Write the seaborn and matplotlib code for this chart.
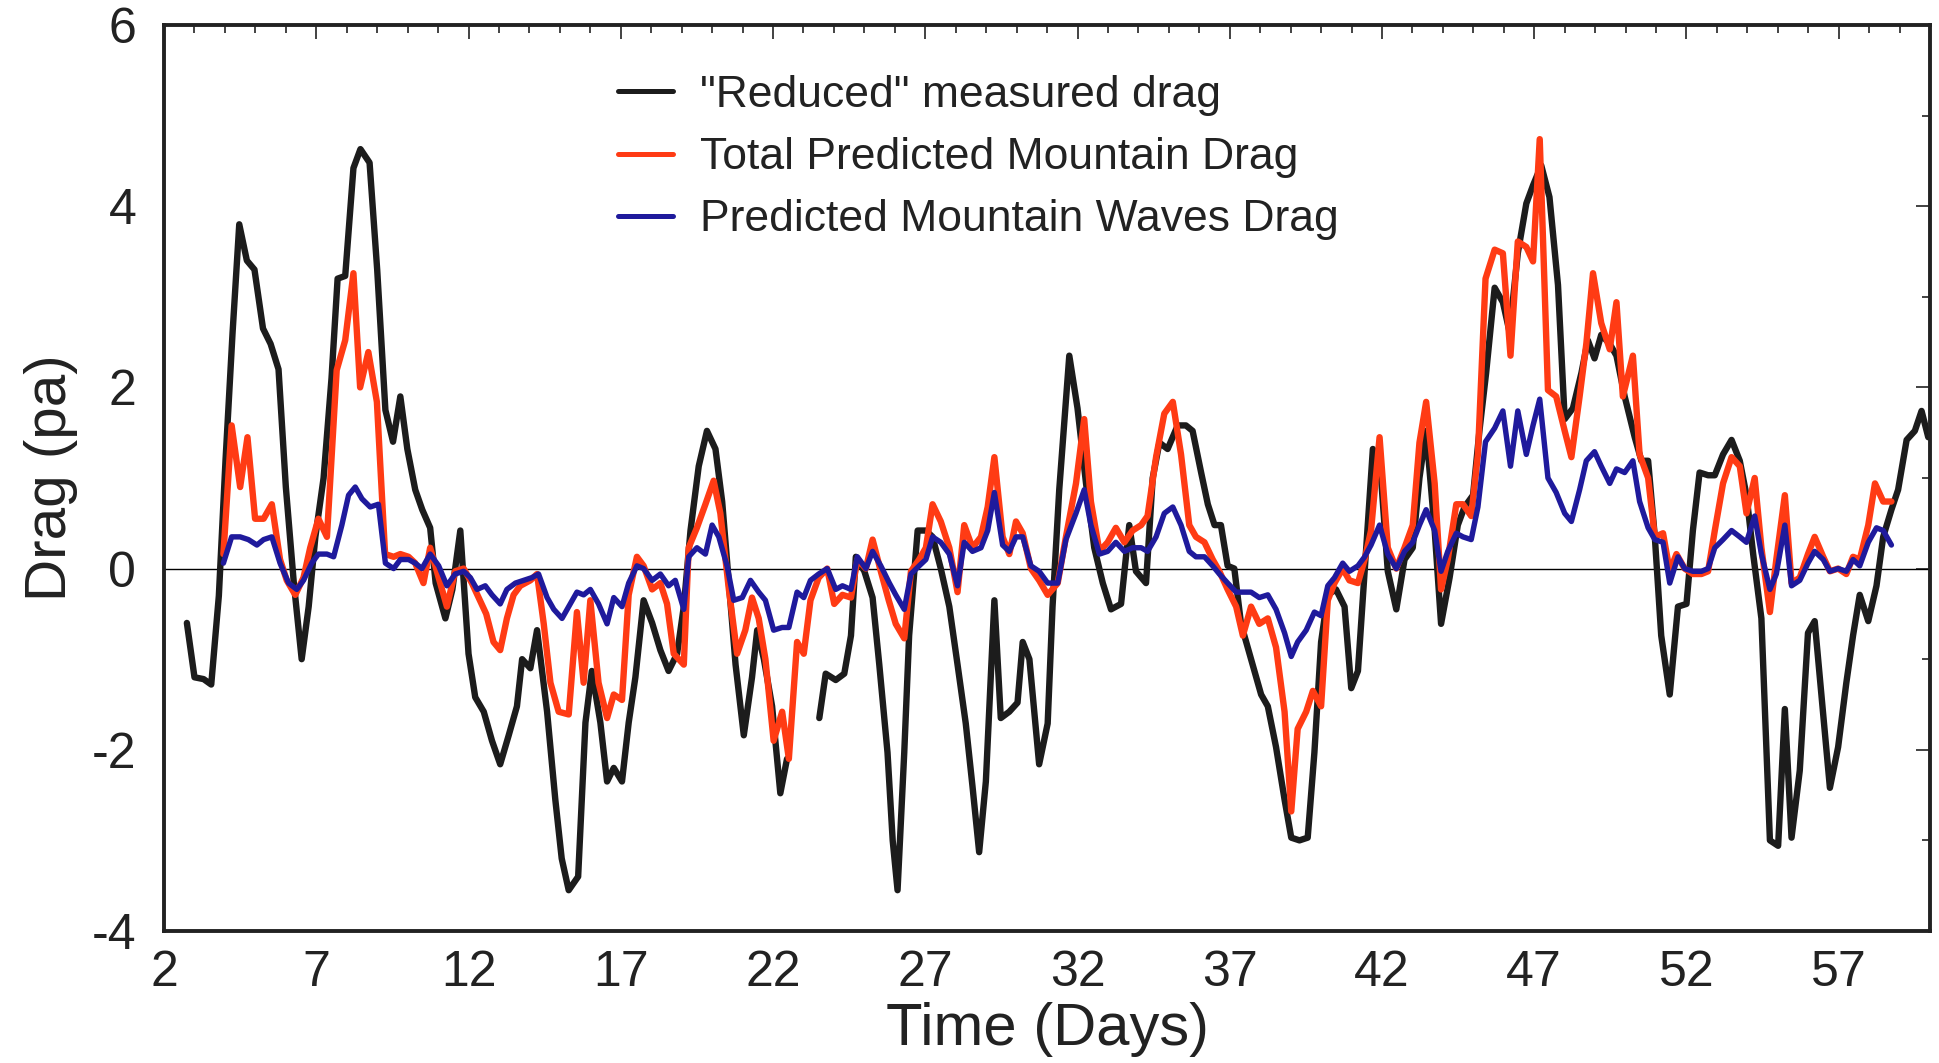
import numpy as np
import pandas as pd
import seaborn as sns
from matplotlib import pyplot as plt
from matplotlib.ticker import MultipleLocator, FixedLocator

# (day, drag in pa)
measured_pts = [
    (2.75, -0.6), (3.0, -1.2), (3.3, -1.22), (3.55, -1.28), (3.8, -0.3), (4.02, 1.2),
    (4.25, 2.6), (4.47, 3.8), (4.72, 3.4), (4.97, 3.3), (5.25, 2.65), (5.5, 2.48),
    (5.76, 2.2), (6.0, 0.9), (6.26, -0.15), (6.52, -1.0), (6.75, -0.42), (6.97, 0.35),
    (7.24, 1.0), (7.5, 2.1), (7.7, 3.2), (7.95, 3.23), (8.22, 4.42), (8.45, 4.63),
    (8.75, 4.48), (9.0, 3.3), (9.27, 1.75), (9.52, 1.4), (9.76, 1.9), (9.99, 1.32),
    (10.25, 0.87), (10.48, 0.65), (10.74, 0.45), (10.92, -0.16), (11.24, -0.55),
    (11.47, -0.23), (11.73, 0.42), (12.0, -0.94), (12.22, -1.42), (12.5, -1.58),
    (12.77, -1.9), (13.04, -2.16), (13.32, -1.84), (13.59, -1.52), (13.76, -1.0),
    (14.03, -1.1), (14.25, -0.68), (14.58, -1.58), (14.85, -2.55), (15.06, -3.2),
    (15.29, -3.55), (15.6, -3.4), (15.84, -1.7), (16.05, -1.13), (16.33, -1.7),
    (16.55, -2.35), (16.77, -2.2), (17.04, -2.35), (17.26, -1.7), (17.48, -1.2),
    (17.75, -0.35), (18.03, -0.6), (18.3, -0.9), (18.57, -1.13), (18.85, -0.94),
    (19.07, -0.42), (19.29, 0.42), (19.56, 1.13), (19.83, 1.52), (20.11, 1.32),
    (20.33, 0.74), (20.55, -0.16), (20.77, -1.06), (21.04, -1.84), (21.31, -1.2),
    (21.48, -0.68), (21.7, -1.0), (21.97, -1.52), (22.24, -2.48), (22.46, -2.1),
]
# second stretch of the measured record (gap before it)
measured_pts_b = [
    (23.52, -1.65), (23.73, -1.16), (24.06, -1.23), (24.34, -1.16), (24.56, -0.74),
    (24.72, 0.13), (25.0, -0.03), (25.27, -0.32), (25.49, -1.06), (25.76, -2.03),
    (25.93, -3.0), (26.09, -3.55), (26.31, -2.03), (26.47, -0.74), (26.75, 0.42),
    (27.02, 0.42), (27.24, 0.35), (27.51, 0.0), (27.79, -0.42), (28.06, -1.06),
    (28.33, -1.71), (28.55, -2.4), (28.77, -3.13), (28.99, -2.35), (29.27, -0.35),
    (29.48, -1.65), (29.76, -1.58), (30.03, -1.48), (30.2, -0.81), (30.42, -1.0),
    (30.74, -2.16), (31.02, -1.71), (31.18, -0.42), (31.4, 0.87), (31.73, 2.35),
    (32.0, 1.77), (32.28, 0.94), (32.55, 0.23), (32.83, -0.16), (33.1, -0.45),
    (33.43, -0.39), (33.7, 0.48), (33.92, -0.03), (34.25, -0.16), (34.47, 1.0),
    (34.69, 1.39), (34.96, 1.32), (35.29, 1.58), (35.56, 1.58), (35.78, 1.52),
    (36.06, 1.06), (36.28, 0.71), (36.5, 0.48), (36.71, 0.48), (36.93, 0.03),
    (37.15, 0.0), (37.37, -0.61), (37.7, -1.0), (38.03, -1.39), (38.25, -1.52),
    (38.52, -1.97), (38.8, -2.55), (39.02, -2.97), (39.29, -3.0), (39.56, -2.97),
    (39.78, -2.03), (40.0, -0.81), (40.22, -0.29), (40.49, -0.23), (40.77, -0.42),
    (40.99, -1.32), (41.21, -1.13), (41.43, -0.03), (41.7, 1.32), (41.97, 1.0),
    (42.19, -0.03), (42.47, -0.45), (42.74, 0.1), (43.01, 0.23), (43.23, 1.0),
    (43.45, 1.52), (43.73, 0.42), (43.94, -0.61), (44.22, -0.1), (44.49, 0.48),
    (44.71, 0.68), (44.99, 0.81), (45.2, 1.52), (45.42, 2.16), (45.7, 3.1),
    (45.97, 2.94), (46.19, 2.61), (46.46, 3.48), (46.74, 4.03), (46.96, 4.23),
    (47.23, 4.45), (47.5, 4.1), (47.78, 3.13), (48.0, 1.65), (48.27, 1.77),
    (48.55, 2.16), (48.76, 2.52), (48.98, 2.32), (49.2, 2.58), (49.48, 2.48),
    (49.7, 2.35), (49.97, 1.9), (50.3, 1.45), (50.52, 1.19), (50.74, 1.19),
    (50.96, 0.35), (51.17, -0.74), (51.45, -1.39), (51.72, -0.42), (52.0, -0.39),
    (52.21, 0.42), (52.43, 1.06), (52.71, 1.03), (52.93, 1.03), (53.2, 1.26),
    (53.48, 1.42), (53.75, 1.19), (53.97, 0.81), (54.19, 0.16), (54.46, -0.55),
    (54.74, -3.0), (55.01, -3.06), (55.23, -1.55), (55.45, -2.97), (55.72, -2.23),
    (55.99, -0.71), (56.21, -0.58), (56.46, -1.5), (56.71, -2.42), (56.98, -1.97),
    (57.25, -1.26), (57.47, -0.74), (57.69, -0.29), (57.97, -0.58), (58.24, -0.19),
    (58.46, 0.35), (58.73, 0.65), (58.95, 0.87), (59.23, 1.42), (59.5, 1.52),
    (59.72, 1.74), (59.94, 1.45),
]

total_pts = [
    (3.95, 0.16), (4.22, 1.58), (4.5, 0.9), (4.74, 1.45), (4.99, 0.55), (5.27, 0.55),
    (5.54, 0.71), (5.81, 0.1), (6.03, -0.13), (6.31, -0.29), (6.58, -0.1), (6.8, 0.23),
    (7.07, 0.55), (7.35, 0.35), (7.67, 2.19), (7.95, 2.52), (8.22, 3.26), (8.44, 2.0),
    (8.71, 2.39), (8.99, 1.84), (9.26, 0.16), (9.54, 0.13), (9.76, 0.16), (10.03, 0.13),
    (10.25, 0.06), (10.52, -0.16), (10.74, 0.23), (11.02, -0.1), (11.29, -0.42),
    (11.56, -0.03), (11.84, 0.0), (12.11, -0.16), (12.33, -0.32), (12.58, -0.5),
    (12.82, -0.81), (13.04, -0.9), (13.26, -0.55), (13.48, -0.29), (13.7, -0.19),
    (14.03, -0.13), (14.25, -0.06), (14.47, -0.61), (14.69, -1.26), (14.96, -1.58),
    (15.29, -1.61), (15.56, -0.48), (15.78, -1.26), (16.0, -0.35), (16.27, -1.26),
    (16.55, -1.65), (16.77, -1.39), (17.04, -1.45), (17.26, -0.29), (17.53, 0.13),
    (17.75, 0.03), (18.03, -0.23), (18.3, -0.16), (18.52, -0.39), (18.74, -0.94),
    (19.07, -1.06), (19.23, 0.23), (19.5, 0.45), (19.78, 0.71), (20.05, 0.97),
    (20.27, 0.61), (20.55, -0.23), (20.82, -0.94), (21.09, -0.68), (21.31, -0.32),
    (21.53, -0.55), (21.75, -1.0), (22.02, -1.9), (22.3, -1.58), (22.52, -2.1),
    (22.79, -0.81), (23.01, -0.94), (23.23, -0.35), (23.5, -0.1), (23.78, 0.0),
    (24.01, -0.39), (24.28, -0.29), (24.56, -0.32), (24.77, 0.1), (25.05, 0.0),
    (25.27, 0.32), (25.54, -0.03), (25.8, -0.35), (26.03, -0.61), (26.31, -0.77),
    (26.53, -0.03), (26.8, 0.1), (27.02, 0.23), (27.24, 0.71), (27.51, 0.52),
    (27.79, 0.23), (28.06, -0.26), (28.28, 0.48), (28.55, 0.23), (28.83, 0.35),
    (29.05, 0.68), (29.27, 1.23), (29.54, 0.35), (29.76, 0.16), (29.98, 0.52),
    (30.2, 0.39), (30.47, 0.0), (30.74, -0.13), (31.02, -0.29), (31.35, -0.16),
    (31.62, 0.35), (31.95, 0.94), (32.22, 1.65), (32.44, 0.74), (32.72, 0.19),
    (32.99, 0.29), (33.26, 0.45), (33.54, 0.29), (33.81, 0.42), (34.09, 0.48),
    (34.3, 0.58), (34.58, 1.23), (34.85, 1.71), (35.13, 1.84), (35.4, 1.26),
    (35.67, 0.48), (35.89, 0.35), (36.17, 0.29), (36.44, 0.1), (36.66, -0.03),
    (36.93, -0.23), (37.21, -0.42), (37.43, -0.74), (37.7, -0.42), (37.97, -0.61),
    (38.25, -0.55), (38.52, -0.87), (38.8, -1.58), (39.02, -2.68), (39.23, -1.77),
    (39.51, -1.58), (39.73, -1.35), (40.0, -1.52), (40.22, -0.35), (40.44, -0.16),
    (40.71, 0.0), (40.93, -0.13), (41.21, -0.16), (41.43, 0.1), (41.64, 0.42),
    (41.92, 1.45), (42.19, 0.23), (42.47, 0.0), (42.74, 0.23), (43.01, 0.48),
    (43.23, 1.39), (43.45, 1.84), (43.73, 0.94), (43.94, -0.23), (44.16, 0.1),
    (44.44, 0.71), (44.66, 0.71), (44.93, 0.58), (45.15, 1.26), (45.4, 3.2),
    (45.7, 3.52), (45.97, 3.48), (46.22, 2.35), (46.46, 3.61), (46.74, 3.55),
    (46.96, 3.39), (47.18, 4.74), (47.45, 1.97), (47.72, 1.9), (48.0, 1.52),
    (48.22, 1.23), (48.49, 1.9), (48.71, 2.48), (48.93, 3.26), (49.2, 2.71),
    (49.48, 2.42), (49.7, 2.94), (49.91, 1.9), (50.24, 2.35), (50.46, 1.26),
    (50.74, 1.0), (50.96, 0.35), (51.23, 0.39), (51.45, -0.03), (51.67, 0.16),
    (51.94, 0.0), (52.21, -0.06), (52.49, -0.06), (52.71, -0.03), (52.93, 0.42),
    (53.2, 0.94), (53.48, 1.23), (53.75, 1.13), (53.97, 0.61), (54.24, 1.0),
    (54.46, 0.23), (54.74, -0.48), (54.95, 0.1), (55.23, 0.81), (55.45, -0.16),
    (55.72, -0.1), (55.99, 0.16), (56.21, 0.35), (56.49, 0.13), (56.71, -0.03),
    (56.98, 0.0), (57.25, -0.06), (57.47, 0.13), (57.69, 0.1), (57.97, 0.48),
    (58.19, 0.94), (58.46, 0.74), (58.73, 0.74),
]

waves_pts = [
    (3.95, 0.06), (4.22, 0.35), (4.5, 0.35), (4.77, 0.32), (5.05, 0.26), (5.27, 0.32),
    (5.54, 0.35), (5.81, 0.06), (6.09, -0.16), (6.36, -0.23), (6.58, -0.13), (6.85, 0.06),
    (7.07, 0.16), (7.35, 0.16), (7.57, 0.13), (7.84, 0.48), (8.06, 0.81), (8.28, 0.9),
    (8.5, 0.77), (8.77, 0.68), (9.04, 0.71), (9.27, 0.06), (9.54, 0.0), (9.76, 0.1),
    (10.03, 0.1), (10.25, 0.06), (10.47, 0.0), (10.74, 0.16), (11.02, 0.03),
    (11.29, -0.19), (11.56, -0.06), (11.84, -0.03), (12.06, -0.1), (12.28, -0.23),
    (12.55, -0.19), (12.77, -0.29), (13.04, -0.39), (13.26, -0.23), (13.54, -0.16),
    (13.81, -0.13), (14.08, -0.1), (14.3, -0.06), (14.58, -0.32), (14.8, -0.45),
    (15.07, -0.55), (15.29, -0.42), (15.56, -0.26), (15.78, -0.29), (16.0, -0.23),
    (16.27, -0.39), (16.55, -0.61), (16.77, -0.32), (17.04, -0.42), (17.26, -0.16),
    (17.53, 0.03), (17.75, 0.0), (18.03, -0.13), (18.3, -0.06), (18.57, -0.19),
    (18.79, -0.13), (19.07, -0.45), (19.23, 0.13), (19.5, 0.23), (19.78, 0.16),
    (20.0, 0.48), (20.22, 0.35), (20.49, 0.03), (20.71, -0.35), (20.99, -0.32),
    (21.26, -0.13), (21.53, -0.26), (21.75, -0.35), (22.02, -0.68), (22.3, -0.65),
    (22.52, -0.65), (22.79, -0.26), (23.01, -0.32), (23.23, -0.13), (23.5, -0.06),
    (23.78, 0.0), (24.06, -0.23), (24.28, -0.19), (24.56, -0.23), (24.77, 0.13),
    (25.05, 0.0), (25.27, 0.19), (25.54, 0.03), (25.82, -0.16), (26.03, -0.29),
    (26.31, -0.45), (26.53, -0.06), (26.8, 0.03), (27.02, 0.1), (27.24, 0.35),
    (27.51, 0.29), (27.79, 0.16), (28.06, -0.19), (28.28, 0.29), (28.55, 0.19),
    (28.83, 0.23), (29.05, 0.42), (29.27, 0.84), (29.54, 0.26), (29.76, 0.19),
    (29.98, 0.35), (30.2, 0.35), (30.47, 0.03), (30.74, -0.03), (31.02, -0.16),
    (31.35, -0.16), (31.62, 0.32), (31.95, 0.61), (32.22, 0.87), (32.44, 0.48),
    (32.72, 0.16), (32.99, 0.19), (33.26, 0.29), (33.54, 0.19), (33.81, 0.23),
    (34.09, 0.23), (34.3, 0.19), (34.58, 0.35), (34.85, 0.61), (35.13, 0.68),
    (35.4, 0.48), (35.67, 0.19), (35.89, 0.13), (36.17, 0.13), (36.44, 0.03),
    (36.66, -0.06), (36.93, -0.16), (37.21, -0.26), (37.43, -0.26), (37.7, -0.26),
    (37.97, -0.32), (38.25, -0.29), (38.52, -0.45), (38.8, -0.71), (39.02, -0.97),
    (39.23, -0.81), (39.51, -0.68), (39.78, -0.48), (40.0, -0.52), (40.22, -0.19),
    (40.44, -0.1), (40.71, 0.06), (40.93, -0.03), (41.21, 0.03), (41.43, 0.13),
    (41.64, 0.26), (41.92, 0.48), (42.19, 0.16), (42.47, 0.0), (42.74, 0.19),
    (43.01, 0.29), (43.23, 0.48), (43.45, 0.65), (43.73, 0.42), (43.94, -0.03),
    (44.16, 0.19), (44.44, 0.39), (44.66, 0.35), (44.93, 0.32), (45.15, 0.68),
    (45.4, 1.4), (45.7, 1.55), (45.97, 1.74), (46.22, 1.13), (46.46, 1.74),
    (46.74, 1.26), (46.96, 1.58), (47.18, 1.87), (47.45, 1.0), (47.72, 0.84),
    (48.0, 0.61), (48.22, 0.52), (48.49, 0.87), (48.71, 1.19), (48.98, 1.29),
    (49.2, 1.13), (49.48, 0.94), (49.7, 1.1), (49.97, 1.06), (50.24, 1.19),
    (50.46, 0.74), (50.74, 0.45), (50.96, 0.32), (51.23, 0.29), (51.45, -0.16),
    (51.72, 0.13), (51.94, 0.0), (52.21, -0.03), (52.49, -0.03), (52.71, 0.0),
    (52.93, 0.23), (53.2, 0.32), (53.48, 0.42), (53.75, 0.35), (53.97, 0.29),
    (54.24, 0.58), (54.46, 0.16), (54.74, -0.23), (54.95, -0.06), (55.23, 0.48),
    (55.45, -0.19), (55.72, -0.13), (55.99, 0.06), (56.21, 0.19), (56.49, 0.1),
    (56.71, -0.03), (56.98, 0.0), (57.25, -0.03), (57.47, 0.1), (57.69, 0.03),
    (57.97, 0.29), (58.24, 0.45), (58.46, 0.42), (58.73, 0.26),
]

labels = ['"Reduced" measured drag', "Total Predicted Mountain Drag",
          "Predicted Mountain Waves Drag"]
x_ticks = [2, 7, 12, 17, 22, 27, 32, 37, 42, 47, 52, 57]
y_ticks = [-4, -2, 0, 2, 4, 6]


def to_frame(pts, name, seg):
    df = pd.DataFrame(pts, columns=["day", "drag"])
    df["series"] = name
    df["seg"] = seg
    return df


data = pd.concat([
    to_frame(measured_pts, labels[0], 0),
    to_frame(measured_pts_b, labels[0], 1),
    to_frame(total_pts, labels[1], 0),
    to_frame(waves_pts, labels[2], 0),
], ignore_index=True)

colors = {labels[0]: "#1c1c1c", labels[1]: "#ff3b14", labels[2]: "#1f1a9c"}
widths = {labels[0]: 4.6, labels[1]: 4.6, labels[2]: 3.9}

sns.set_style("white")
plt.rcParams["font.family"] = ["Liberation Sans Narrow", "Liberation Sans", "DejaVu Sans"]
plt.rcParams["axes.unicode_minus"] = False

fig = plt.figure(figsize=(19.39, 10.63), dpi=100)
ax = fig.add_axes([0.0846, 0.1242, 0.9108, 0.8523])

ax.axhline(0, color="black", lw=1.0, zorder=1)

for name in labels:
    sub = data[data.series == name]
    for k, (seg, part) in enumerate(sub.groupby("seg")):
        sns.lineplot(data=part, x="day", y="drag", ax=ax, color=colors[name],
                     linewidth=widths[name], sort=False, estimator=None,
                     label=name if k == 0 else None, legend=False)

ax.set_xlim(2, 60)
ax.set_ylim(-4, 6)
ax.xaxis.set_major_locator(FixedLocator(x_ticks))
ax.xaxis.set_minor_locator(MultipleLocator(1))
ax.yaxis.set_major_locator(FixedLocator(y_ticks))
ax.yaxis.set_minor_locator(MultipleLocator(1))
ax.tick_params(which="both", direction="in", top=True, right=True, width=1.2,
               colors="#222222", labelsize=36, labelcolor="#222222")
ax.tick_params(which="major", length=10)
ax.tick_params(which="minor", length=6)
ax.tick_params(axis="x", pad=14)
ax.tick_params(axis="y", pad=20)
for sp in ax.spines.values():
    sp.set_linewidth(2.8)
    sp.set_color("#222222")

ax.set_xlabel("Time (Days)", fontsize=43, color="#222222", labelpad=4)
ax.set_ylabel("Drag (pa)", fontsize=42, color="#222222", labelpad=10)

handles, hl = ax.get_legend_handles_labels()
leg = ax.legend(handles, hl, loc="upper left", bbox_to_anchor=(0.257, 0.945),
                frameon=False, handlelength=1.25, handletextpad=0.6,
                labelspacing=0.48, borderpad=0, borderaxespad=0,
                prop={"family": "Liberation Sans", "size": 32})
for line in leg.get_lines():
    line.set_linewidth(3.6)
for t in leg.get_texts():
    t.set_color("#222222")

fig.savefig("out.png", dpi=100)
